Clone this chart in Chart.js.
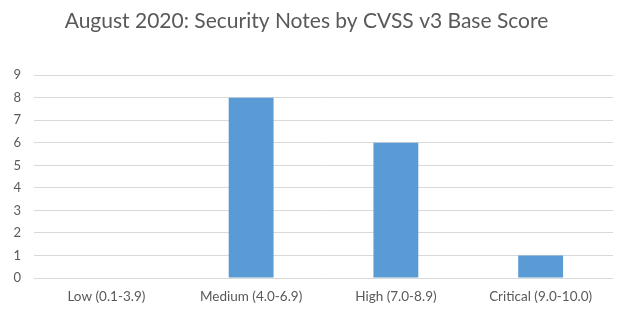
<!DOCTYPE html>
<html>
<head>
<meta charset="utf-8">
<script src="https://cdn.jsdelivr.net/npm/chart.js@4/dist/chart.umd.min.js"></script>
<style>
html,body{margin:0;padding:0;background:#fff;}
#wrap{width:621px;height:332px;}
</style>
</head>
<body>
<div id="wrap"><canvas id="c" width="621" height="332"></canvas></div>
<script>
const titleText = "August 2020: Security Notes by CVSS v3 Base Score";
const categories = ["Low (0.1-3.9)", "Medium (4.0-6.9)", "High (7.0-8.9)", "Critical (9.0-10.0)"];
const securityNotes = [0, 8, 6, 1];
const yTicks = [0, 1, 2, 3, 4, 5, 6, 7, 8, 9];

const textColor = "#595959";
const fontFamily = "Lato, 'Open Sans', sans-serif";

new Chart(document.getElementById("c"), {
  type: "bar",
  data: {
    labels: categories,
    datasets: [{
      label: "Security Notes",
      data: securityNotes,
      backgroundColor: "#5B9BD5",
      borderWidth: 0,
      barPercentage: 0.62,
      categoryPercentage: 0.5
    }]
  },
  options: {
    responsive: false,
    animation: false,
    devicePixelRatio: 1,
    layout: { padding: { left: 0, right: 8, top: 0, bottom: 0 } },
    plugins: {
      legend: { display: false },
      tooltip: { enabled: false },
      title: {
        display: true,
        text: titleText,
        color: textColor,
        font: { family: fontFamily, size: 21, weight: "normal" },
        padding: { top: 9, bottom: 41 }
      }
    },
    scales: {
      x: {
        grid: { display: false, drawTicks: false },
        border: { display: false },
        ticks: { color: textColor, font: { family: fontFamily, size: 13.5 }, padding: 11, maxRotation: 0 },
        afterFit: s => { s.height = 54; }
      },
      y: {
        min: 0,
        max: 9,
        afterBuildTicks: s => { s.ticks = yTicks.map(v => ({ value: v })); },
        grid: { color: "#D9D9D9", drawTicks: false, lineWidth: 1 },
        border: { display: false },
        ticks: { color: textColor, font: { family: fontFamily, size: 13 }, padding: 13 },
        afterFit: s => { s.width = 34; }
      }
    }
  }
});
</script>
</body>
</html>
